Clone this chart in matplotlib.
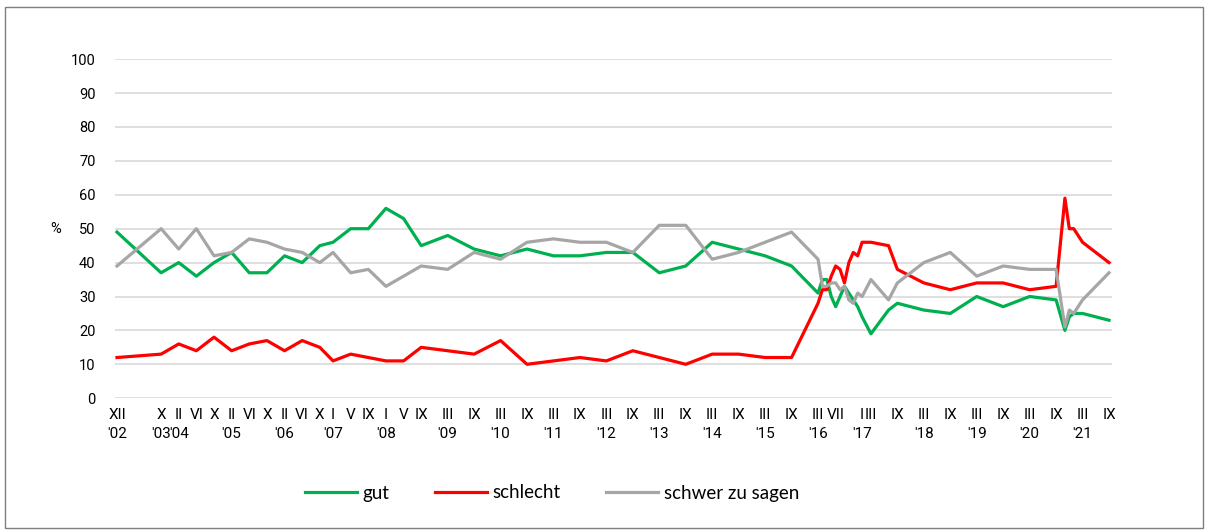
import matplotlib
matplotlib.use("Agg")
import matplotlib.pyplot as plt
from matplotlib import font_manager
from matplotlib.patches import Rectangle

# survey dates (year-month)
dates = ["2002-12", "2003-10", "2004-02", "2004-06", "2004-10", "2005-02", "2005-06", "2005-10",
         "2006-02", "2006-06", "2006-10", "2007-01", "2007-05", "2007-09", "2008-01", "2008-05",
         "2008-09", "2009-03", "2009-09", "2010-03", "2010-09", "2011-03", "2011-09", "2012-03",
         "2012-09", "2013-03", "2013-09", "2014-03", "2014-09", "2015-03", "2015-09",
         "2016-03", "2016-04", "2016-05", "2016-06", "2016-07", "2016-08", "2016-09", "2016-10",
         "2016-11", "2016-12", "2017-01", "2017-03", "2017-07", "2017-09", "2018-03", "2018-09",
         "2019-03", "2019-09", "2020-03", "2020-09", "2020-11", "2020-12", "2021-01", "2021-03",
         "2021-09"]

gut = [49, 37, 40, 36, 40, 43, 37, 37, 42, 40, 45, 46, 50, 50, 56, 53, 45,
       48, 44, 42, 44, 42, 42, 43, 43, 37, 39, 46, 44, 42, 39,
       31, 35, 35, 30, 27, 30, 33, 31, 29, 27,
       24, 19, 26, 28,
       26, 25, 30, 27, 30, 29,
       20, 24, 25, 25, 23]

schlecht = [12, 13, 16, 14, 18, 14, 16, 17, 14, 17, 15, 11, 13, 12, 11, 11, 15,
            14, 13, 17, 10, 11, 12, 11, 14, 12, 10, 13, 13, 12, 12,
            28, 32, 32, 36, 39, 38, 34, 40, 43, 42,
            46, 46, 45, 38,
            34, 32, 34, 34, 32, 33,
            59, 50, 50, 46, 40]

schwer = [39, 50, 44, 50, 42, 43, 47, 46, 44, 43, 40, 43, 37, 38, 33, 36, 39,
          38, 43, 41, 46, 47, 46, 46, 43, 51, 51, 41, 43, 46, 49,
          41, 33, 33, 34, 34, 32, 33, 29, 28, 31,
          30, 35, 29, 34,
          40, 43, 36, 39, 38, 38,
          21, 26, 25, 29, 37]

# dates that carry an axis label
tick_dates = ["2002-12", "2003-10", "2004-02", "2004-06", "2004-10", "2005-02", "2005-06", "2005-10",
              "2006-02", "2006-06", "2006-10", "2007-01", "2007-05", "2007-09", "2008-01", "2008-05",
              "2008-09", "2009-03", "2009-09", "2010-03", "2010-09", "2011-03", "2011-09", "2012-03",
              "2012-09", "2013-03", "2013-09", "2014-03", "2014-09", "2015-03", "2015-09", "2016-03",
              "2016-07", "2017-01", "2017-03", "2017-09", "2018-03", "2018-09", "2019-03", "2019-09",
              "2020-03", "2020-09", "2021-03", "2021-09"]

ROMAN = ["", "I", "II", "III", "IV", "V", "VI", "VII", "VIII", "IX", "X", "XI", "XII"]


def month_index(s):
    y, m = s.split("-")
    return (int(y) - 2002) * 12 + int(m) - 12


x = [month_index(d) for d in dates]
tx = [month_index(d) for d in tick_dates]
tl = []
prev_year = None
for d in tick_dates:
    y, m = d.split("-")
    lab = ROMAN[int(m)]
    if y != prev_year:
        lab += "\n'" + y[2:]
    else:
        lab += "\n "
    prev_year = y
    tl.append(lab)

names = {f.name for f in font_manager.fontManager.ttflist}
narrow = "Liberation Sans Narrow" if "Liberation Sans Narrow" in names else "Roboto"

fig = plt.figure(figsize=(12.11, 5.31), dpi=100)
ax = fig.add_axes([115 / 1211, (531 - 398.2) / 531, 997 / 1211, 339 / 531])

ax.plot(x, gut, color="#00B050", lw=2.3, label="gut")
ax.plot(x, schlecht, color="#FF0000", lw=2.3, label="schlecht")
ax.plot(x, schwer, color="#A6A6A6", lw=2.3, label="schwer zu sagen")

ax.set_xlim(-2 / 4.41, 225 + 3 / 4.41)
ax.set_ylim(0, 100)
ax.set_yticks(range(0, 101, 10))
ax.set_xticks(tx)
ax.set_xticklabels(tl, fontfamily=narrow, fontsize=11, linespacing=1.5)
for lab in ax.get_yticklabels():
    lab.set_fontfamily("Roboto")
    lab.set_fontsize(10.5)
ax.tick_params(axis="both", length=0, colors="#000000")
ax.tick_params(axis="x", pad=7)
ax.tick_params(axis="y", pad=14)
ax.grid(axis="y", color="#D9D9D9", lw=1.2)
ax.set_axisbelow(True)
for s in ax.spines.values():
    s.set_visible(False)

ax.set_ylabel("%", rotation=0, fontfamily="Roboto", fontsize=10.5, va="center", ha="center")
ax.yaxis.set_label_coords(-0.06, 0.5)

fig.legend(loc="center", bbox_to_anchor=(552 / 1211, (531 - 493) / 531), ncol=3, frameon=False,
           handlelength=2.8, handletextpad=0.3, columnspacing=2.4,
           prop={"family": "Lato", "size": 13.5})

fig.patches.append(Rectangle((5 / 1211, 3 / 531), 1198 / 1211, 521 / 531, transform=fig.transFigure,
                             fill=False, edgecolor="#7F7F7F", lw=1))

fig.savefig("out.png", dpi=100, facecolor="white")
